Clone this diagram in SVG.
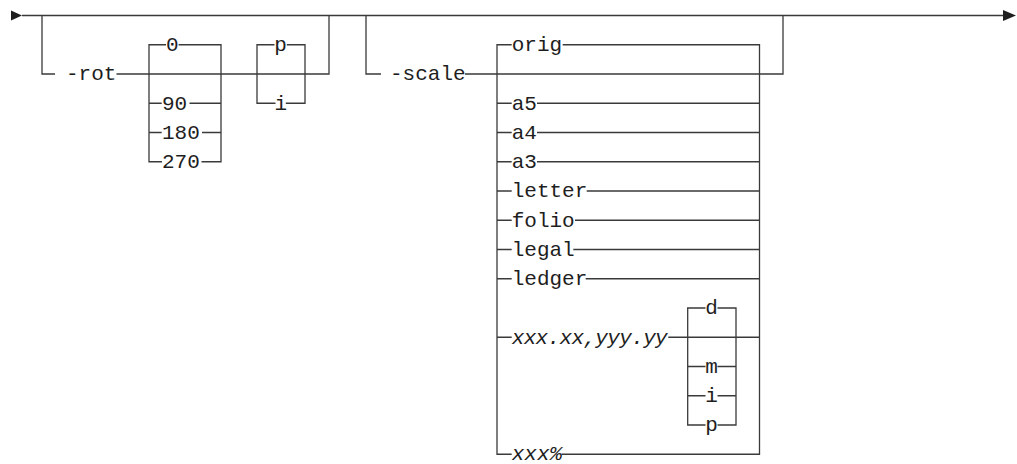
<svg xmlns="http://www.w3.org/2000/svg" width="1017" height="464" viewBox="0 0 1017 464">
<style>
.c{fill:none;stroke:#3a3a3a;stroke-width:1.3}
.t{font-family:"Liberation Mono","DejaVu Sans Mono",monospace;font-size:21px;fill:#1e1e1e}
.i{font-style:italic}
.a{fill:#1e1e1e}
</style>
<rect width="1017" height="464" fill="#fff"/>
<g id="connectors">
<polygon class="a" points="11,10.5 22,15.5 11,20.5"/>
<polygon class="a" points="1003,10 1016,15.5 1003,21"/>
<path class="c" d="M22,15.5 H1003"/>
<path class="c" d="M42,15.5 V74 H55"/>
<path class="c" d="M116.5,74 H329 V15.5"/>
<path class="c" d="M149,74 V44.75 H166 M178.6,44.75 H221 V74"/>
<path class="c" d="M149,74 V161.75 H162 M201.5,161.75 H221 V74"/>
<path class="c" d="M149,103.25 H161.7 M189.5,103.25 H221"/>
<path class="c" d="M149,132.5 H161.7 M202,132.5 H221"/>
<path class="c" d="M257,74 V44.75 H274.5 M286.8,44.75 H305 V74"/>
<path class="c" d="M257,74 V103.25 H275.5 M285.8,103.25 H305 V74"/>
<path class="c" d="M366,15.5 V74 H381"/>
<path class="c" d="M465,74 H783 V15.5"/>
<path class="c" d="M497,74 V44.75 H511.7 M562.7,44.75 H759.5 V74"/>
<path class="c" d="M497,74 V454.25 H511.7 M561.7,454.25 H759.5 V74"/>
<path class="c" d="M497,103.25 H511.7 M537,103.25 H759.5"/>
<path class="c" d="M497,132.5 H511.7 M537,132.5 H759.5"/>
<path class="c" d="M497,161.75 H511.7 M537,161.75 H759.5"/>
<path class="c" d="M497,191 H511.7 M586.7,191 H759.5"/>
<path class="c" d="M497,220.25 H511.7 M575,220.25 H759.5"/>
<path class="c" d="M497,249.5 H511.7 M573.3,249.5 H759.5"/>
<path class="c" d="M497,278.75 H511.7 M585.7,278.75 H759.5"/>
<path class="c" d="M497,337.25 H511.7 M668.3,337.25 H759.5"/>
<path class="c" d="M687.7,337.25 V308 H705.5 M717.5,308 H736 V337.25"/>
<path class="c" d="M687.7,337.25 V425 H705.5 M717.5,425 H736 V337.25"/>
<path class="c" d="M687.7,366.5 H705.5 M717.5,366.5 H736"/>
<path class="c" d="M687.7,395.75 H705.5 M717.5,395.75 H736"/>
</g>
<g id="n-rot"><text class="t" x="66" y="80">-rot</text></g>
<g id="n-0"><text class="t" x="166" y="51">0</text></g>
<g id="n-90"><text class="t" x="162" y="109.5">90</text></g>
<g id="n-180"><text class="t" x="162" y="138.75">180</text></g>
<g id="n-270"><text class="t" x="162" y="168">270</text></g>
<g id="n-p"><text class="t" x="274.3" y="51">p</text></g>
<g id="n-i"><text class="t" x="274.5" y="109.5">i</text></g>
<g id="n-scale"><text class="t" x="390" y="80">-scale</text></g>
<g id="n-orig"><text class="t" x="511.7" y="51">orig</text></g>
<g id="n-a5"><text class="t" x="511.7" y="109.5">a5</text></g>
<g id="n-a4"><text class="t" x="511.7" y="138.75">a4</text></g>
<g id="n-a3"><text class="t" x="511.7" y="168">a3</text></g>
<g id="n-letter"><text class="t" x="511.7" y="197.25">letter</text></g>
<g id="n-folio"><text class="t" x="511.7" y="226.5">folio</text></g>
<g id="n-legal"><text class="t" x="511.7" y="255.75">legal</text></g>
<g id="n-ledger"><text class="t" x="511.7" y="285">ledger</text></g>
<g id="n-xy"><text class="t i" x="511.7" y="343.5" textLength="156" lengthAdjust="spacing">xxx.xx,yyy.yy</text></g>
<g id="n-d"><text class="t" x="705.3" y="314">d</text></g>
<g id="n-m"><text class="t" x="705.3" y="372.5">m</text></g>
<g id="n-ui"><text class="t" x="705.3" y="401.75">i</text></g>
<g id="n-up"><text class="t" x="705.3" y="431">p</text></g>
<g id="n-pct"><text class="t i" x="511.7" y="459.5">xxx%</text></g>
</svg>
